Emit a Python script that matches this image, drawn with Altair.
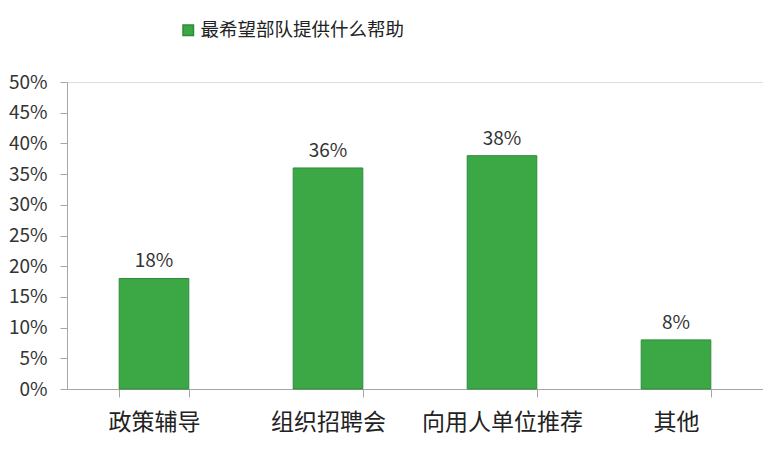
import altair as alt
import pandas as pd

categories = ["政策辅导", "组织招聘会", "向用人单位推荐", "其他"]
values = [0.18, 0.36, 0.38, 0.08]
labels = ["18%", "36%", "38%", "8%"]
series = "最希望部队提供什么帮助"
y_ticks = [0, 0.05, 0.10, 0.15, 0.20, 0.25, 0.30, 0.35, 0.40, 0.45, 0.50]

df = pd.DataFrame({"cat": categories, "val": values, "lab": labels, "series": [series] * 4})

FONT = "Noto Sans CJK SC"

x_enc = alt.X("cat:N", sort=categories,
              scale=alt.Scale(paddingInner=0.6, paddingOuter=0.3),
              axis=alt.Axis(title=None, labelAngle=0, labelFontSize=23, labelColor="#222222",
                            labelFont=FONT, tickBand="extent", tickSize=8, tickColor="#A6A6A6",
                            domainColor="#A6A6A6", labelPadding=14))
y_enc = alt.Y("val:Q", scale=alt.Scale(domain=[0, 0.5], nice=False),
              axis=alt.Axis(title=None, values=y_ticks, format=".0%", labelFontSize=19,
                            labelColor="#333333", labelFont=FONT, tickSize=7, tickColor="#A6A6A6",
                            domainColor="#A6A6A6", grid=False, labelPadding=13,
                            labelOverlap=False, labelBound=False, tickCount=11))

base = alt.Chart(df)

bars = base.mark_bar(stroke="#2E8B3B", strokeWidth=1).encode(
    x=x_enc,
    y=y_enc,
    color=alt.Color("series:N", scale=alt.Scale(range=["#3BA845"]),
                    legend=alt.Legend(title=None, orient="none", legendX=112, legendY=-61,
                                      symbolType="square", symbolSize=110, symbolStrokeColor="#2E8B3B",
                                      labelFontSize=18.5, labelFont=FONT, labelColor="#222222",
                                      labelLimit=400, labelOffset=3)),
)

text = base.mark_text(dy=-7, baseline="bottom", fontSize=19, font=FONT, color="#333333").encode(
    x=x_enc,
    y=y_enc,
    text="lab:N",
)

chart = (bars + text).properties(
    width=696, height=307,
    autosize=alt.AutoSizeParams(type="none"),
    padding={"left": 59, "top": 74, "right": 0, "bottom": 56},
).configure_view(stroke=None).configure(background="white")

chart.save("out.html", embed_options={"renderer": "svg", "actions": False})
